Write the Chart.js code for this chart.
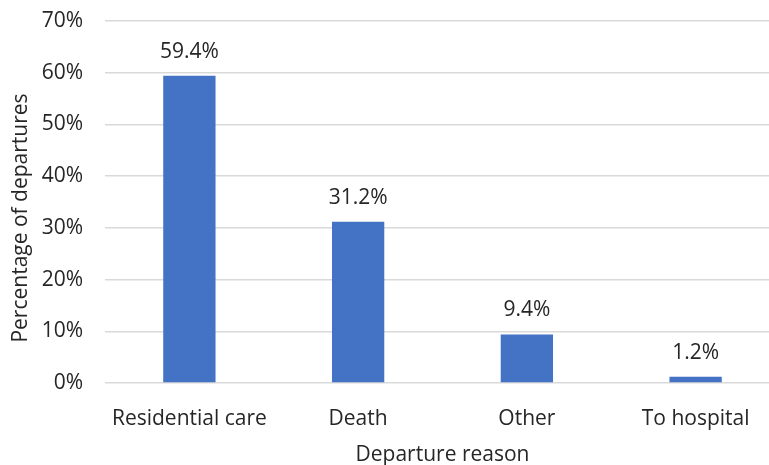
<!DOCTYPE html>
<html>
<head>
<meta charset="utf-8">
<script src="https://cdn.jsdelivr.net/npm/chart.js@4"></script>
<style>
  html, body { margin: 0; padding: 0; background: #fff; overflow: hidden; }
  #wrap { width: 785px; height: 465px; }
</style>
</head>
<body>
<div id="wrap"><canvas id="chart" width="785" height="465"></canvas></div>
<script>
const reasons = ["Residential care", "Death", "Other", "To hospital"];
const shares = [59.4, 31.2, 9.4, 1.2];
const yTicks = [0, 10, 20, 30, 40, 50, 60, 70];
const xTitle = "Departure reason";
const yTitle = "Percentage of departures";

const FONT = "'Open Sans', sans-serif";
const SIZE = 21;
const TEXT = "#262626";

/* value labels above bars + axis titles */
const barLabels = {
  id: "barLabels",
  afterDatasetsDraw(chart) {
    const ctx = chart.ctx;
    const meta = chart.getDatasetMeta(0);
    const area = chart.chartArea;
    ctx.save();
    ctx.font = SIZE + "px " + FONT;
    ctx.fillStyle = TEXT;
    ctx.textAlign = "center";
    ctx.textBaseline = "middle";
    meta.data.forEach((bar, i) => {
      ctx.fillText(shares[i].toFixed(1) + "%", bar.x, bar.y - 24);
    });

    ctx.fillText(xTitle, (area.left + area.right) / 2, area.bottom + 72);

    ctx.translate(21, area.top + 197);
    ctx.rotate(-Math.PI / 2);
    ctx.fillText(yTitle, 0, 0);
    ctx.restore();
  },
};

new Chart(document.getElementById("chart"), {
  type: "bar",
  data: {
    labels: reasons,
    datasets: [
      {
        data: shares,
        backgroundColor: "#4472C4",
        categoryPercentage: 1,
        barPercentage: 0.31,
      },
    ],
  },
  options: {
    responsive: false,
    animation: false,
    layout: { padding: { top: 21, left: 0, right: 5, bottom: 0 } },
    plugins: { legend: { display: false }, tooltip: { enabled: false } },
    scales: {
      x: {
        grid: { display: false },
        border: { display: false },
        ticks: { color: TEXT, font: { family: FONT, size: SIZE }, padding: 15 },
        afterFit(scale) { scale.height = 82; },
      },
      y: {
        min: 0,
        max: 70,
        afterBuildTicks(scale) { scale.ticks = yTicks.map((v) => ({ value: v })); },
        grid: { color: "#d9d9d9", lineWidth: 1.5, drawTicks: false },
        border: { display: false },
        ticks: {
          color: TEXT,
          font: { family: FONT, size: SIZE },
          padding: 22,
          callback: (v) => v + "%",
        },
        afterFit(scale) {
          scale.width = 105;
          scale.paddingTop = 0;
        },
      },
    },
  },
  plugins: [barLabels],
});
</script>
</body>
</html>
